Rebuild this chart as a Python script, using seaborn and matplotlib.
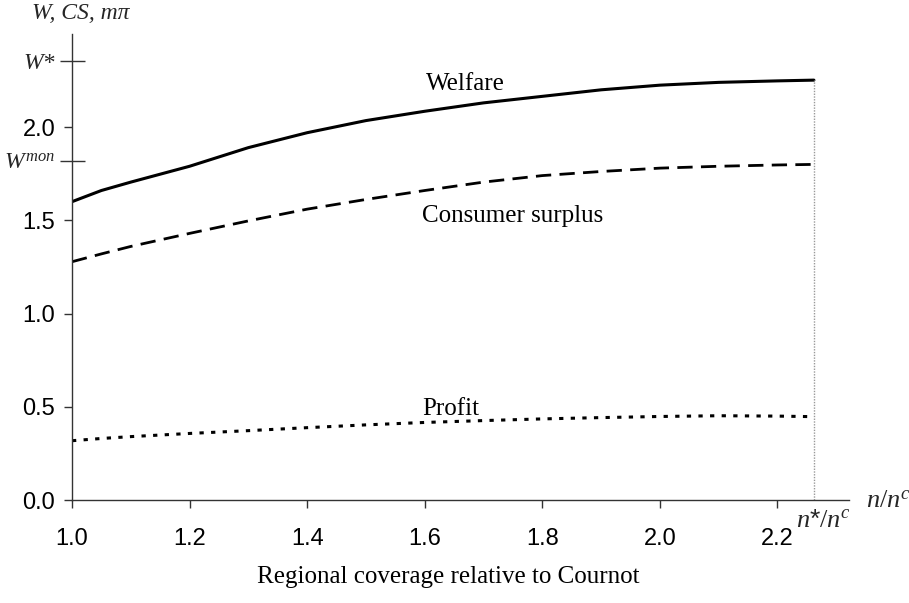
import numpy as np
import pandas as pd
import seaborn as sns
import matplotlib.pyplot as plt

# values
n_ratio = [1.0, 1.05, 1.1, 1.2, 1.3, 1.4, 1.5, 1.6, 1.7, 1.8, 1.9, 2.0, 2.1, 2.2, 2.262]
welfare = [1.60, 1.66, 1.705, 1.79, 1.89, 1.97, 2.035, 2.085, 2.13, 2.165, 2.20, 2.225, 2.24, 2.248, 2.252]
consumer_surplus = [1.278, 1.32, 1.36, 1.43, 1.497, 1.56, 1.612, 1.66, 1.705, 1.74, 1.762, 1.78, 1.79, 1.797, 1.80]
profit = [0.318, 0.33, 0.34, 0.357, 0.372, 0.388, 0.403, 0.416, 0.426, 0.435, 0.442, 0.448, 0.452, 0.45, 0.447]

y_ticks = [0.0, 0.5, 1.0, 1.5, 2.0]
y_ticklabels = ["0.0", "0.5", "1.0", "1.5", "2.0"]
x_ticks = [1.0, 1.2, 1.4, 1.6, 1.8, 2.0, 2.2]
x_ticklabels = ["1.0", "1.2", "1.4", "1.6", "1.8", "2.0", "2.2"]
w_mon = 1.818
w_star = 2.354
n_star = 2.262

df = pd.DataFrame({"n": n_ratio, "Welfare": welfare,
                   "Consumer surplus": consumer_surplus, "Profit": profit})

sns.set_style("white")
plt.rcParams['font.family'] = ['Liberation Sans', 'DejaVu Sans']
plt.rcParams['mathtext.fontset'] = 'custom'
plt.rcParams['mathtext.it'] = 'Liberation Serif:italic'
plt.rcParams['mathtext.rm'] = 'Liberation Serif'

fig = plt.figure(figsize=(9.09, 6.03), dpi=100)
ax = fig.add_axes([0.0792, 0.1708, 0.855, 0.773])

sns.lineplot(data=df, x="n", y="Welfare", ax=ax, color="black", lw=2.2)
sns.lineplot(data=df, x="n", y="Consumer surplus", ax=ax, color="black", lw=2.0,
             linestyle=(0, (5.5, 3)))
sns.lineplot(data=df, x="n", y="Profit", ax=ax, color="black", lw=2.2,
             linestyle=(0, (1.4, 2.4)))

# vertical guide at n*/n^c
ax.plot([n_star, n_star], [0, welfare[-1]], color="#999999", lw=1, ls=(0, (1, 1)))

ax.set_xlim(1.0, 2.322)
ax.set_ylim(0, 2.5)

for s in ["top", "right"]:
    ax.spines[s].set_visible(False)
for s in ["left", "bottom"]:
    ax.spines[s].set_color("#333333")
    ax.spines[s].set_linewidth(1.0)

ax.set_xticks(x_ticks, x_ticklabels)
ax.set_yticks(y_ticks, y_ticklabels)
ax.tick_params(axis="both", which="major", direction="out", length=6, width=1,
               color="#333333", labelsize=17, labelcolor="black",
               bottom=True, left=True)
ax.tick_params(axis="x", which="major", pad=14)
ax.tick_params(axis="y", which="major", pad=6)

# W* and W^mon marks cross the axis
ax.set_yticks([w_mon, w_star], minor=True)
ax.set_yticklabels([r"$W^{mon}$", "W*"], minor=True)
ax.tick_params(axis="y", which="minor", direction="inout", length=18, width=1,
               color="#333333", labelsize=17, pad=3, left=True)
for lab in ax.get_yticklabels(minor=True):
    lab.set_fontfamily("Liberation Serif")
    lab.set_fontstyle("italic")

ax.set_xlabel("")
ax.set_ylabel("")

serif = dict(fontfamily="Liberation Serif", fontsize=18, color="black")
ax.text(1.670, 2.198, "Welfare", ha="center", va="baseline", **serif)
ax.text(1.749, 1.492, "Consumer surplus", ha="center", va="baseline", **serif)
ax.text(1.645, 0.456, "Profit", ha="center", va="baseline", **serif)

fig.text(448 / 909, 1 - 583 / 603, "Regional coverage relative to Cournot",
         ha="center", va="baseline", **serif)
fig.text(32 / 909, 1 - 19 / 603, "W, CS, mπ", ha="left", va="baseline",
         fontfamily="Liberation Serif", fontstyle="italic", fontsize=17)
fig.text(866 / 909, 1 - 508 / 603, r"$n/n^{c}$", ha="left", va="baseline", fontsize=19)
fig.text(796 / 909, 1 - 527 / 603, r"$n$*$/n^{c}$", ha="left", va="baseline", fontsize=19)

fig.savefig("out.png", dpi=100)
